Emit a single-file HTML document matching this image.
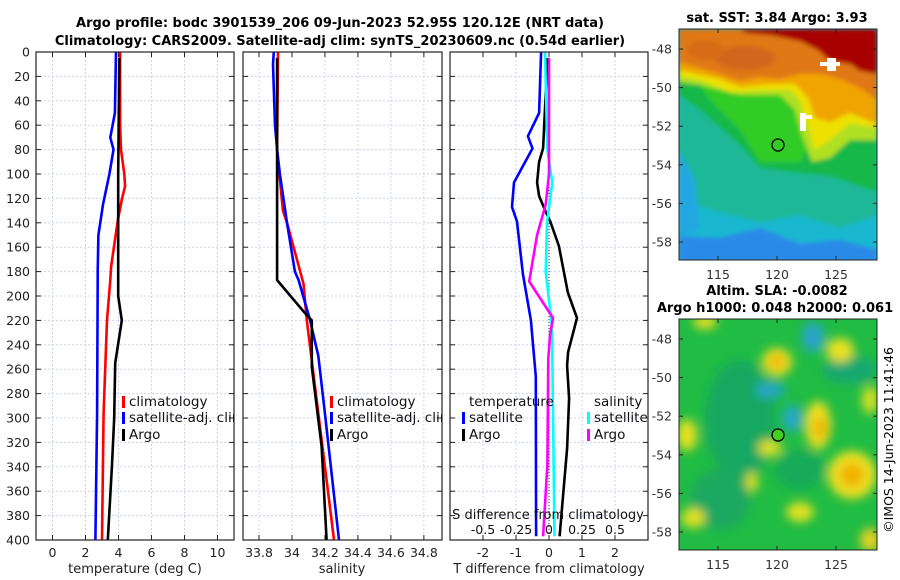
<!DOCTYPE html>
<html><head><meta charset="utf-8">
<style>
html,body{margin:0;padding:0;background:#fff;}
svg{display:block;font-family:"DejaVu Sans","Liberation Sans",sans-serif;}
</style></head>
<body>
<svg id="fig" width="900" height="580" viewBox="0 0 900 580" xmlns="http://www.w3.org/2000/svg">
<defs>
  <clipPath id="c1"><rect x="36" y="52" width="198" height="488"/></clipPath>
  <clipPath id="c2"><rect x="243" y="52" width="199" height="488"/></clipPath>
  <clipPath id="c3"><rect x="450" y="52" width="198" height="488"/></clipPath>
  <clipPath id="cm1"><rect x="679" y="29" width="198" height="231"/></clipPath>
  <clipPath id="cm2"><rect x="679" y="319" width="198" height="231"/></clipPath>
  <filter id="bl" x="-20%" y="-20%" width="140%" height="140%"><feGaussianBlur stdDeviation="2"/></filter>
  <filter id="bl2" x="-50%" y="-50%" width="200%" height="200%"><feGaussianBlur stdDeviation="5"/></filter>
</defs>
<text x="340" y="27" text-anchor="middle" font-size="13" font-weight="bold">Argo profile: bodc 3901539_206 09-Jun-2023 52.95S 120.12E (NRT data)</text>
<text x="340" y="45" text-anchor="middle" font-size="13" font-weight="bold">Climatology: CARS2009. Satellite-adj clim: synTS_20230609.nc (0.54d earlier)</text>

<g id="panels"></g>

<!-- SST map -->
<g>
 <g clip-path="url(#cm1)">
  <rect x="679" y="29" width="198" height="231" fill="#1ab8d0"/>
  <g filter="url(#bl)">
  <polygon fill="#1cb898" points="679,29 877,29 877,215 840,228 800,215 760,222 720,212 679,200"/>
  <polygon fill="#2a8ae8" points="679,236 720,238 760,228 800,244 840,240 877,250 877,262 679,262"/>
  <polygon fill="#22a8e0" points="679,150 695,180 700,230 679,236"/>
  <polygon fill="#16b84a" points="679,95 700,110 740,145 760,168 790,172 830,176 877,192 877,29 679,29"/>
  <polygon fill="#30cc28" points="700,85 770,92 800,100 812,140 800,162 760,162 740,130 710,100"/>
  <polygon fill="#b0e020" points="679,75 877,75 877,140 850,140 830,158 812,162 800,130 795,110 780,95 740,95 700,85 679,82"/>
  <polygon fill="#eee000" points="679,65 877,65 877,128 850,123 830,140 815,150 806,120 800,100 790,90 760,90 730,92 700,80 679,76"/>
  <polygon fill="#f0a400" points="679,29 877,29 877,124 850,113 830,122 815,118 808,98 795,84 770,84 740,87 720,79 679,70"/>
  <polygon fill="#e07812" points="679,29 877,29 877,100 860,88 840,79 820,74 800,74 780,79 760,77 740,81 720,74 679,62"/>
  <ellipse cx="745" cy="58" rx="30" ry="12" fill="#d2661a"/>
  <ellipse cx="705" cy="50" rx="18" ry="10" fill="#d86c18"/>
  <polygon fill="#a80000" points="740,29 877,29 877,74 860,71 850,64 830,61 818,50 800,41 770,35 745,33"/>
  </g>
  <rect x="827" y="58" width="9" height="13" fill="#fff"/>
  <rect x="820" y="62" width="20" height="4" fill="#fff"/>
  <rect x="800" y="113" width="6" height="18" fill="#fff"/>
  <rect x="800" y="115" width="12" height="4" fill="#fff"/>
 </g>
 <rect x="679" y="29" width="198" height="231" fill="none" stroke="#222" stroke-width="1"/>
 <circle cx="778" cy="145" r="6" fill="none" stroke="#000" stroke-width="1.3"/>
 <text x="777" y="22" text-anchor="middle" font-size="13" font-weight="bold">sat. SST: 3.84 Argo: 3.93</text>
</g>

<!-- SLA map -->
<g>
 <g clip-path="url(#cm2)">
  <rect x="679" y="319" width="198" height="231" fill="#20bc44"/>
  <g filter="url(#bl2)">
   <ellipse cx="740" cy="420" rx="35" ry="60" fill="#18a860"/>
   <ellipse cx="850" cy="370" rx="28" ry="14" fill="#18a870"/>
   <ellipse cx="720" cy="500" rx="30" ry="30" fill="#1aa860"/>
   <ellipse cx="800" cy="470" rx="25" ry="20" fill="#18aa5a"/>
   <ellipse cx="777" cy="362" rx="15" ry="14" fill="#eee020"/>
   <ellipse cx="777" cy="362" rx="7" ry="7" fill="#f0b000"/>
   <ellipse cx="813" cy="337" rx="12" ry="16" fill="#20a8b0"/>
   <ellipse cx="813" cy="337" rx="5" ry="8" fill="#30a0e0"/>
   <ellipse cx="770" cy="390" rx="16" ry="9" fill="#20a8b0"/>
   <ellipse cx="767" cy="390" rx="6" ry="4" fill="#30a0e0"/>
   <ellipse cx="792" cy="418" rx="10" ry="14" fill="#20a8b8"/>
   <ellipse cx="792" cy="420" rx="4" ry="6" fill="#30a8e0"/>
   <ellipse cx="818" cy="425" rx="13" ry="24" fill="#eee020"/>
   <ellipse cx="820" cy="428" rx="6" ry="12" fill="#f0b000"/>
   <ellipse cx="852" cy="475" rx="24" ry="24" fill="#eee020"/>
   <ellipse cx="852" cy="475" rx="12" ry="12" fill="#f0b000"/>
   <ellipse cx="840" cy="350" rx="14" ry="12" fill="#e8e020"/>
   <ellipse cx="687" cy="435" rx="10" ry="16" fill="#e8e020"/>
   <ellipse cx="705" cy="322" rx="12" ry="7" fill="#e8e020"/>
   <ellipse cx="770" cy="448" rx="12" ry="8" fill="#e0e020"/>
   <ellipse cx="800" cy="512" rx="14" ry="10" fill="#e0e020"/>
   <ellipse cx="693" cy="518" rx="12" ry="10" fill="#e0e020"/>
   <ellipse cx="752" cy="482" rx="6" ry="10" fill="#e0e020"/>
   <ellipse cx="870" cy="400" rx="8" ry="14" fill="#d8e020"/>
   <ellipse cx="870" cy="540" rx="10" ry="12" fill="#e8d020"/>
  </g>
 </g>
 <rect x="679" y="319" width="198" height="231" fill="none" stroke="#222" stroke-width="1"/>
 <circle cx="778" cy="435" r="6" fill="#44d020" stroke="#000" stroke-width="1.3"/>
 <text x="777" y="295" text-anchor="middle" font-size="13" font-weight="bold">Altim. SLA: -0.0082</text>
 <text x="775" y="312" text-anchor="middle" font-size="13" font-weight="bold">Argo h1000: 0.048 h2000: 0.061</text>
</g>
<text transform="translate(893,440) rotate(-90)" text-anchor="middle" font-size="12.5">©IMOS 14-Jun-2023 11:41:46</text>
<g id="mapaxes"></g>

<script>
// ---- data ----
var depthTicks = [0,20,40,60,80,100,120,140,160,180,200,220,240,260,280,300,320,340,360,380,400];
var tempTicks = [0,2,4,6,8,10];
var salTicks = [33.8,34,34.2,34.4,34.6,34.8];
var salTickLabels = ["33.8","34","34.2","34.4","34.6","34.8"];
var tdiffTicks = [-2,-1,0,1,2];
var sdiffLabels = ["-0.5","-0.25","0","0.25","0.5"];

var tClimDepth = [0,20,60,80,100,110,121,138,176,187,220,296,400];
var tClimVal   = [4.1,4.1,4.1,4.15,4.35,4.4,4.2,3.96,3.55,3.5,3.3,3.1,3.0];
var tSatDepth  = [0,50,70,80,100,125,150,180,187,296,400];
var tSatVal    = [3.85,3.78,3.5,3.7,3.45,3.06,2.78,2.74,2.74,2.7,2.6];
var tArgoDepth = [5,100,200,220,255,300,340,400];
var tArgoVal   = [4.05,3.98,3.98,4.2,3.8,3.74,3.6,3.35];

var sClimDepth = [0,80,130,140,190,220,296,400];
var sClimVal   = [33.915,33.91,33.945,33.97,34.07,34.09,34.16,34.255];
var sSatDepth  = [0,10,60,80,100,140,180,187,220,249,296,400];
var sSatVal    = [33.89,33.885,33.897,33.91,33.927,33.97,34.018,34.04,34.11,34.16,34.2,34.285];
var sArgoDepth = [5,187,215,220,258,323,400];
var sArgoVal   = [33.91,33.91,34.085,34.12,34.12,34.18,34.21];

var dTSatDepth = [0,50,69,79,107,127,139,182,220,266,397];
var dTSatVal   = [-0.24,-0.3,-0.64,-0.5,-1.06,-1.12,-0.97,-0.79,-0.55,-0.4,-0.39];
var dTArgoDepth = [5,79,90,107,118,131,139,159,197,218,246,257,284,325,397];
var dTArgoVal   = [-0.05,-0.18,-0.3,-0.36,-0.3,-0.1,0.04,0.3,0.57,0.85,0.58,0.55,0.61,0.55,0.32];
var dSSatDepth = [0,80,107,140,180,220,246,397];
var dSSatVal   = [-0.03,-0.013,0.025,-0.015,-0.025,0.018,0.025,0.042];
var dSArgoDepth = [5,100,125,150,188,218,232,251,338,397];
var dSArgoVal   = [0,0,-0.025,-0.09,-0.15,0.03,0.008,-0.005,-0.012,-0.045];

var latTicks = [-48,-50,-52,-54,-56,-58];
var lonTicks = [115,120,125];

// ---- helpers ----
var NS = "http://www.w3.org/2000/svg";
var Y0 = 52, Y1 = 540, DMAX = 400;
function yD(d){ return Y0 + d/DMAX*(Y1-Y0); }
function mk(tag, attrs, parent){
  var e = document.createElementNS(NS, tag);
  for (var k in attrs) e.setAttribute(k, attrs[k]);
  parent.appendChild(e); return e;
}
var panelsG = document.getElementById('panels');
var P = [
  {x0:36,x1:234,min:-1,max:11,clip:'c1'},
  {x0:243,x1:442,min:33.703,max:34.91,clip:'c2'},
  {x0:450,x1:648,min:-3,max:3,clip:'c3'}
];
function xS(p,v){ return p.x0 + (v-p.min)/(p.max-p.min)*(p.x1-p.x0); }

function drawPanel(p, ticks, labels, idx){
  var g = mk('g', {}, panelsG);
  
  
  mk('rect',{x:p.x0,y:Y0,width:p.x1-p.x0,height:Y1-Y0,fill:'#fff'},g);
  ticks.forEach(function(t){
    var x = xS(p,t);
    mk('line',{x1:x,y1:Y0,x2:x,y2:Y1,stroke:'#cdd2ee','stroke-width':1,'stroke-dasharray':'2,2'},g);
    mk('line',{x1:x,y1:Y1,x2:x,y2:Y1-5,stroke:'#222'},g);
    mk('line',{x1:x,y1:Y0,x2:x,y2:Y0+5,stroke:'#222'},g);
  });
  depthTicks.forEach(function(d){
    var y = yD(d);
    mk('line',{x1:p.x0,y1:y,x2:p.x1,y2:y,stroke:'#cdd2ee','stroke-width':1,'stroke-dasharray':'2,2'},g);
    mk('line',{x1:p.x0,y1:y,x2:p.x0+5,y2:y,stroke:'#222'},g);
    mk('line',{x1:p.x1,y1:y,x2:p.x1-5,y2:y,stroke:'#222'},g);
  });
  ticks.forEach(function(t,i){
    var tx = mk('text',{x:xS(p,t),y:557,'text-anchor':'middle','font-size':12.5,fill:'#222'},g);
    
    
    tx.textContent = labels[i];
  });
  return g;
}
function line(p, g, depths, vals, color, scale, name){
  var pts = depths.map(function(d,i){ return xS(p, vals[i]*(scale||1)).toFixed(1)+','+yD(d).toFixed(1); }).join(' ');
  var pl = mk('polyline',{points:pts,fill:'none',stroke:color,'stroke-width':2.6,'stroke-linejoin':'round','clip-path':'url(#'+p.clip+')'},g);
  
  
}
function legend(g, x, ys, colors, texts, clip){
  var lg = mk('g',{'clip-path':'url(#'+clip+')'},g);
  
  
  texts.forEach(function(t,i){
    if (colors[i]) mk('rect',{x:x,y:ys[i]-10,width:3,height:12,fill:colors[i]},lg);
    var tx = mk('text',{x:x+7,y:ys[i],'font-size':13.5,fill:'#111'},lg);
    
    
    tx.textContent = t;
  });
}

// Panel 1
var g1 = drawPanel(P[0], tempTicks, tempTicks.map(String), 'temperature');
line(P[0], g1, tClimDepth, tClimVal, '#ff0000', 1, 'temp-climatology-line');
line(P[0], g1, tSatDepth, tSatVal, '#0000ff', 1, 'temp-satellite-line');
line(P[0], g1, tArgoDepth, tArgoVal, '#000000', 1, 'temp-argo-line');
legend(g1, 122, [406,422,439], ['#ff0000','#0000ff','#000'], ['climatology','satellite-adj. clim','Argo'], 'c1');
depthTicks.forEach(function(d){
  var t = mk('text',{x:30,y:yD(d)+4.5,'text-anchor':'end','font-size':12.5,fill:'#222'},g1);
  
  
  t.textContent = d;
});
var xl1 = mk('text',{x:135,y:573,'text-anchor':'middle','font-size':13,fill:'#222'},g1);


xl1.textContent = 'temperature (deg C)';

// Panel 2
var g2 = drawPanel(P[1], salTicks, salTickLabels, 'salinity');
line(P[1], g2, sClimDepth, sClimVal, '#ff0000', 1, 'sal-climatology-line');
line(P[1], g2, sSatDepth, sSatVal, '#0000ff', 1, 'sal-satellite-line');
line(P[1], g2, sArgoDepth, sArgoVal, '#000000', 1, 'sal-argo-line');
legend(g2, 330, [406,422,439], ['#ff0000','#0000ff','#000'], ['climatology','satellite-adj. clim','Argo'], 'c2');
var xl2 = mk('text',{x:342,y:573,'text-anchor':'middle','font-size':13,fill:'#222'},g2);


xl2.textContent = 'salinity';

// Panel 3
var g3 = drawPanel(P[2], tdiffTicks, tdiffTicks.map(String), 'differences');
mk('line',{x1:xS(P[2],0),y1:Y0,x2:xS(P[2],0),y2:Y1,stroke:'#333','stroke-width':1,'stroke-dasharray':'1,2'},g3);
line(P[2], g3, dTSatDepth, dTSatVal, '#0000ff', 1, 'tdiff-satellite-line');
line(P[2], g3, dTArgoDepth, dTArgoVal, '#000000', 1, 'tdiff-argo-line');
line(P[2], g3, dSSatDepth, dSSatVal, '#00ffff', 4, 'sdiff-satellite-line');
line(P[2], g3, dSArgoDepth, dSArgoVal, '#ff00ff', 4, 'sdiff-argo-line');
legend(g3, 462, [406,422,439], [null,'#0000ff','#000'], ['temperature','satellite','Argo'], 'c3');
legend(g3, 587, [406,422,439], [null,'#00ffff','#ff00ff'], ['salinity','satellite','Argo'], 'c3');
var sdl = mk('text',{x:548,y:519,'text-anchor':'middle','font-size':13,fill:'#111'},g3);


sdl.textContent = 'S difference from climatology';
sdiffLabels.forEach(function(s,i){
  var t = mk('text',{x:xS(P[2],parseFloat(s)*4),y:534,'text-anchor':'middle','font-size':12.5,fill:'#111'},g3);
  
  
  t.textContent = s;
});
var xl3 = mk('text',{x:549,y:573,'text-anchor':'middle','font-size':13,fill:'#222'},g3);


xl3.textContent = 'T difference from climatology';

// map axes
var ma = document.getElementById('mapaxes');
function latY(top, lat){ return top + 20 + (-48-lat)/10*193; }
function lonX(lon){ return 718 + (lon-115)/5*59; }
[29,319].forEach(function(top){
  latTicks.forEach(function(l){
    var y = latY(top,l);
    mk('line',{x1:679,y1:y,x2:683,y2:y,stroke:'#222'},ma);
    mk('line',{x1:877,y1:y,x2:873,y2:y,stroke:'#222'},ma);
    var t = mk('text',{x:672,y:y+4.5,'text-anchor':'end','font-size':12.5,fill:'#333'},ma);
    
    
    t.textContent = l;
  });
  lonTicks.forEach(function(l){
    var x = lonX(l);
    mk('line',{x1:x,y1:top+231,x2:x,y2:top+227,stroke:'#222'},ma);
    mk('line',{x1:x,y1:top,x2:x,y2:top+4,stroke:'#222'},ma);
    var t = mk('text',{x:x,y:top+250,'text-anchor':'middle','font-size':12.5,fill:'#333'},ma);
    
    
    t.textContent = l;
  });
});
P.forEach(function(p){
  mk('rect',{x:p.x0,y:Y0,width:p.x1-p.x0,height:Y1-Y0,fill:'none',stroke:'#222','stroke-width':1.2},panelsG);
});
</script>
</svg>
</body></html>
